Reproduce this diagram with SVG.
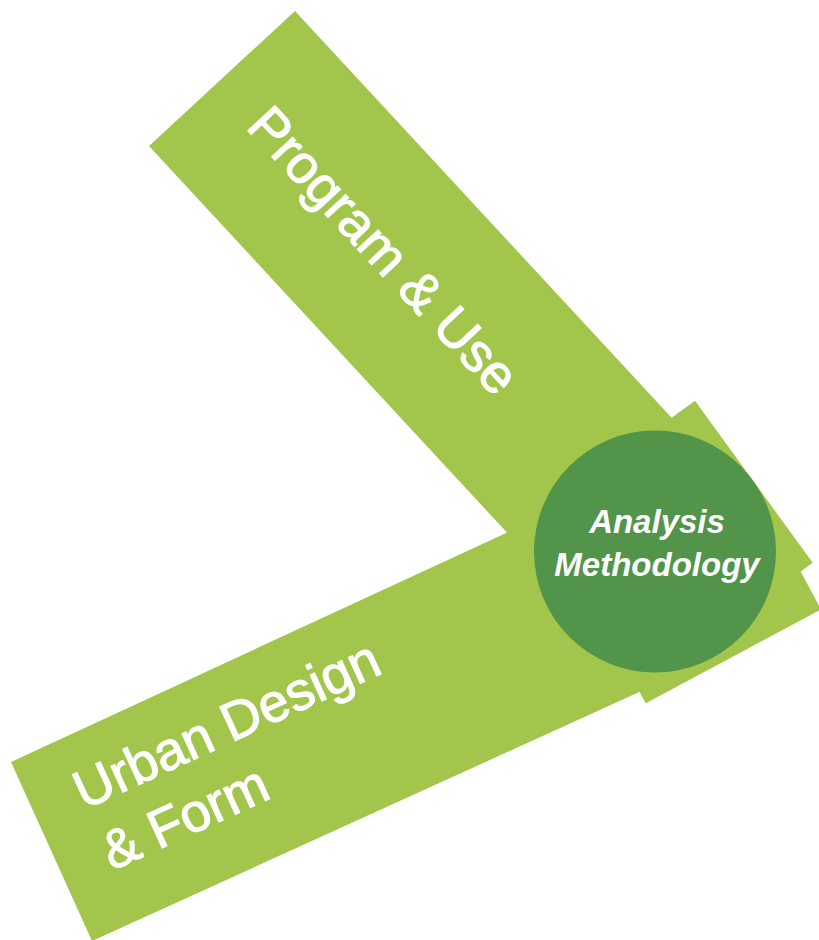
<svg xmlns="http://www.w3.org/2000/svg" width="819" height="940" viewBox="0 0 819 940">
  <style>
    .band { fill: #A2C64C; }
    .hub { fill: #51944A; }
    .lbl { fill: #FFFFFF; stroke: #FFFFFF; stroke-width: 1.1px; font-family: "Liberation Sans", Arial, sans-serif; font-size: 54px; }
    .hubl { fill: #FFFFFF; font-family: "Liberation Sans", Arial, sans-serif; font-size: 33px; font-weight: bold; font-style: italic; text-anchor: middle; }
  </style>
  <rect x="0" y="0" width="819" height="940" fill="#FFFFFF"/>
  <g id="program-use">
    <polygon class="band" points="295,11 149,146 556.6,586.2 702.6,451.2"/>
    <text class="lbl" transform="translate(384,250) rotate(47.2)" x="0" y="19" text-anchor="middle">Program &amp; Use</text>
  </g>
  <g id="urban-design-form">
    <polygon class="band" points="11,762 92,941 709,660.3 627,477"/>
    <text class="lbl" transform="translate(84,810) rotate(-24.6)"><tspan x="0" y="0">Urban Design</tspan><tspan x="0" y="67">&amp; Form</tspan></text>
  </g>
  <g id="connector-blocks">
    <polygon class="band" points="695,400.7 812.7,562.7 667.1,668.5 549.4,506.5"/>
    <polygon class="band" points="645.7,703.3 820.9,609.4 773.7,521.3 598.5,615.2"/>
  </g>
  <g id="analysis-methodology">
    <circle class="hub" cx="655" cy="551.5" r="121"/>
    <text class="hubl" x="657" y="533">Analysis</text>
    <text class="hubl" x="657" y="576">Methodology</text>
  </g>
</svg>
